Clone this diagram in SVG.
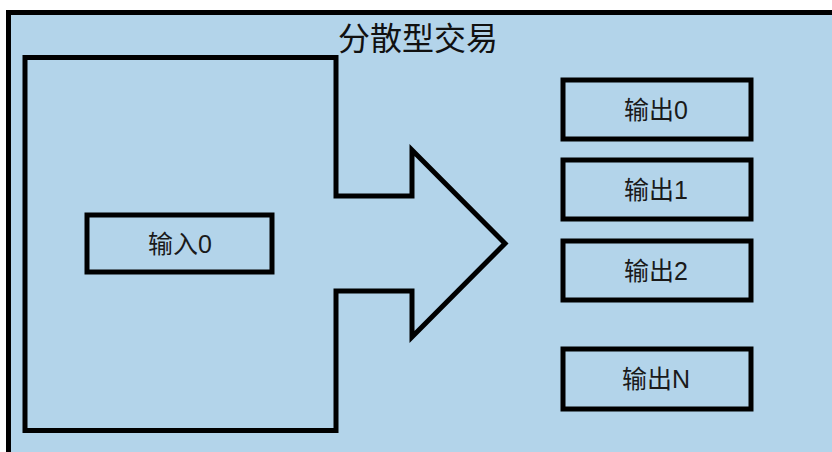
<svg xmlns="http://www.w3.org/2000/svg" width="832" height="452" viewBox="0 0 832 452">
<style>
.box{fill:#b3d4ea;stroke:#000;stroke-width:5}
.lbl{font-family:"Liberation Sans","Noto Sans CJK SC",sans-serif;font-size:25px;fill:#1a1a1a;text-anchor:middle}
.title{font-family:"Liberation Sans","Noto Sans CJK SC",sans-serif;font-size:32px;fill:#111;text-anchor:middle}
</style>
<rect x="0" y="0" width="832" height="452" fill="#ffffff"/>
<g id="frame">
<path d="M8.5,460 L8.5,12.5 L840,12.5 L840,460 Z" class="box"/>
<text class="title" x="418" y="50">分散型交易</text>
</g>
<g id="arrow">
<path class="box" stroke-linejoin="miter" d="M25,57.5 L336,57.5 L336,196 L412,196 L412,150 L505,243.5 L412,337 L412,291 L336,291 L336,430.5 L25,430.5 Z"/>
</g>
<g id="input0">
<rect class="box" x="87" y="215" width="185" height="57"/>
<text class="lbl" x="180" y="253">输入0</text>
</g>
<g id="output0">
<rect class="box" x="563" y="80" width="188" height="59"/>
<text class="lbl" x="656" y="119">输出0</text>
</g>
<g id="output1">
<rect class="box" x="563" y="160" width="188" height="59"/>
<text class="lbl" x="656" y="199">输出1</text>
</g>
<g id="output2">
<rect class="box" x="563" y="241" width="188" height="59"/>
<text class="lbl" x="656" y="280">输出2</text>
</g>
<g id="outputN">
<rect class="box" x="563" y="349" width="188" height="60"/>
<text class="lbl" x="656" y="388">输出N</text>
</g>
<g id="connectors"></g>
</svg>
